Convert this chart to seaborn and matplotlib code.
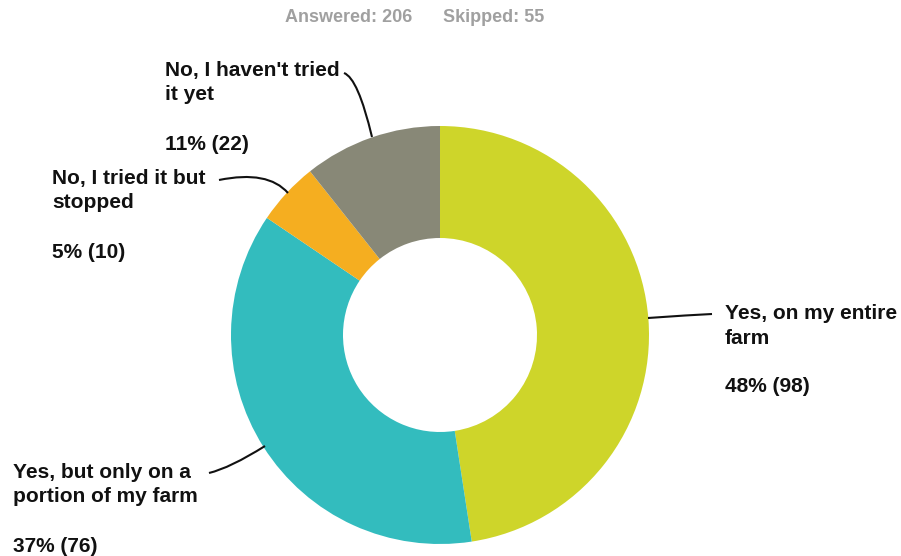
import matplotlib
matplotlib.use("Agg")
import matplotlib.pyplot as plt
from matplotlib.path import Path
from matplotlib.patches import PathPatch
import seaborn as sns

# ---- data ----
categories = ["Yes, on my entire farm", "Yes, but only on a portion of my farm",
              "No, I tried it but stopped", "No, I haven't tried it yet"]
label_lines = [["Yes, on my entire", "farm"],
               ["Yes, but only on a", "portion of my farm"],
               ["No, I tried it but", "stopped"],
               ["No, I haven't tried", "it yet"]]
counts = [98, 76, 10, 22]
percents = ["48%", "37%", "5%", "11%"]
answered = 206
skipped = 55
colors = ["#CED52A", "#33BCBE", "#F5AE20", "#888877"]

sns.set_theme(style="white")
plt.rcParams['font.family'] = ['Liberation Sans', 'DejaVu Sans']

W, H = 901, 556
fig = plt.figure(figsize=(W / 100, H / 100), dpi=100)
ax = fig.add_axes([0, 0, 1, 1])

def Y(y):
    return H - y

cx, cy, R, hole = 440, 335, 209, 97
pal = sns.color_palette(colors)
ax.pie(counts, colors=pal, startangle=90, counterclock=False,
       center=(cx, Y(cy)), radius=R,
       wedgeprops=dict(width=R - hole, linewidth=0), frame=True)
ax.set_xlim(0, W)
ax.set_ylim(0, H)
ax.set_aspect("auto")
ax.axis("off")

# label layout: (x, first baseline)
label_pos = [(725, 319), (13, 478), (52, 184), (165, 76)]
step = 24.5
fs = 15
for lines, pct, n, (lx, ly) in zip(label_lines, percents, counts, label_pos):
    for i, ln in enumerate(lines):
        ax.text(lx, Y(ly + i * step), ln, fontsize=fs, fontweight="bold",
                color="#111111", va="baseline", ha="left")
    ax.text(lx, Y(ly + 3 * step), f"{pct} ({n})", fontsize=fs, fontweight="bold",
            color="#111111", va="baseline", ha="left")

# leader lines (quadratic curves): start near label, control, end at wedge
leaders = [
    [(712, 314), (690, 315), (648, 318)],
    [(209, 473), (230, 468), (265, 446)],
    [(219, 180), (268, 170), (288, 193)],
    [(344, 73), (358, 78), (372, 137)],
]
for p0, p1, p2 in leaders:
    path = Path([(p0[0], Y(p0[1])), (p1[0], Y(p1[1])), (p2[0], Y(p2[1]))],
                [Path.MOVETO, Path.CURVE3, Path.CURVE3])
    ax.add_patch(PathPatch(path, fill=False, lw=1.5, ec="#111111"))

ax.text(285, Y(22), f"Answered: {answered}", fontsize=13, fontweight="bold",
        color="#A0A0A0", va="baseline", ha="left")
ax.text(443, Y(22), f"Skipped: {skipped}", fontsize=13, fontweight="bold",
        color="#A0A0A0", va="baseline", ha="left")

fig.savefig("out.png", dpi=100, facecolor="white")
